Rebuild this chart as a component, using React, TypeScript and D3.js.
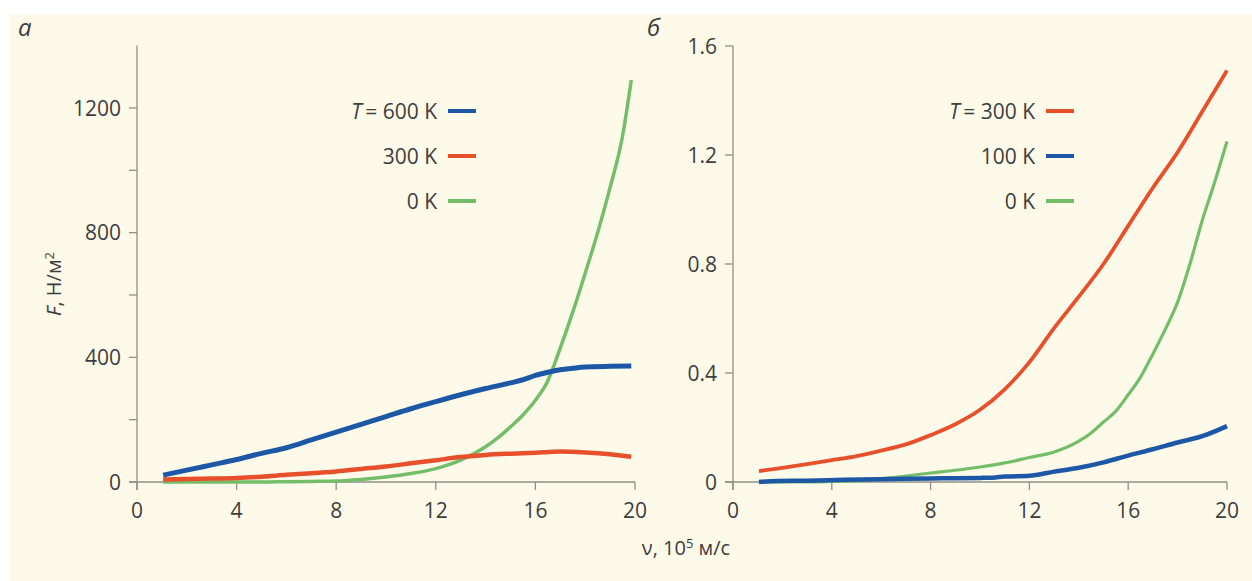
import React from "react";
import * as d3 from "d3";

// ---- Data (panel а: F, Н/м², v in 10^5 m/s) ----
const vA_T600 = [1.05, 2, 3, 4, 5, 6, 7, 8, 9, 10, 11, 12, 13, 14, 15, 15.5, 16, 16.5, 17, 17.5, 18, 19, 19.85];
const fA_T600 = [22, 38, 55, 72, 92, 110, 135, 160, 185, 210, 235, 258, 280, 300, 318, 328, 342, 352, 360, 365, 369, 371, 372];

const vA_T300 = [1.05, 2, 3, 4, 5, 6, 7, 8, 9, 10, 11, 12, 13, 14, 15, 16, 17, 18, 19, 19.85];
const fA_T300 = [8, 10, 11, 13, 17, 23, 28, 34, 42, 50, 60, 70, 80, 87, 91, 94, 98, 95, 89, 81];

const vA_T0 = [1.05, 2, 3, 4, 5, 6, 7, 8, 9, 10, 11, 12, 13, 14, 14.5, 15, 15.5, 16, 16.5, 17, 17.5, 18, 18.5, 19, 19.5, 19.85];
const fA_T0 = [0, 0, 0, 0, 0, 1, 2, 3, 8, 16, 27, 43, 70, 113, 142, 177, 215, 262, 325, 430, 545, 670, 800, 945, 1110, 1290];

// ---- Data (panel б) ----
const vB_T300 = [1.05, 2, 3, 4, 5, 6, 7, 8, 9, 10, 11, 12, 13, 14, 15, 16, 17, 18, 19, 20];
const fB_T300 = [0.04, 0.052, 0.066, 0.08, 0.095, 0.115, 0.138, 0.172, 0.212, 0.265, 0.34, 0.44, 0.565, 0.68, 0.8, 0.94, 1.08, 1.21, 1.36, 1.51];

const vB_T100 = [1.05, 1.8, 3, 4.5, 6, 7, 8, 9, 10, 10.5, 11, 12, 13, 14, 15, 16, 17, 18, 19, 20];
const fB_T100 = [0, 0.004, 0.005, 0.008, 0.01, 0.012, 0.013, 0.014, 0.015, 0.016, 0.02, 0.023, 0.038, 0.052, 0.072, 0.097, 0.12, 0.145, 0.168, 0.205];

const vB_T0 = [1.05, 2, 3, 4, 5, 6, 7, 8, 9, 10, 11, 12, 13, 14, 14.5, 15, 15.5, 16, 16.5, 17, 17.5, 18, 18.5, 19, 19.5, 20];
const fB_T0 = [0, 0, 0, 0.002, 0.005, 0.012, 0.022, 0.033, 0.043, 0.055, 0.07, 0.09, 0.11, 0.15, 0.18, 0.22, 0.26, 0.32, 0.385, 0.47, 0.56, 0.66, 0.8, 0.96, 1.1, 1.25];

const xTicks = [0, 4, 8, 12, 16, 20];
const yTicksA = [0, 200, 400, 600, 800, 1000, 1200];
const yLabelsA = [0, 400, 800, 1200];
const yTicksB = [0, 0.4, 0.8, 1.2, 1.6];

const legendA = ["600 K", "300 K", "0 K"];
const legendB = ["300 K", "100 K", "0 K"];

const BLUE = "#1c58a6";
const RED = "#e8502c";
const GREEN = "#74be6a";
const AXIS = "#8f8f88";
const TEXT = "#3d3d3d";
const BG = "#fefaea";
const FONT = "'Open Sans', 'Noto Sans', sans-serif";
const FS = 21;

type Series = { v: number[]; f: number[]; color: string; width: number };

function Panel(props: {
  x0: number; x1: number; yMax: number; yTop: number;
  yTicks: number[]; yLabels: number[]; fmt: (d: number) => string;
  series: Series[]; legend: string[]; legendColors: string[]; legendX: number;
}) {
  const { x0, x1, yMax, yTop, yTicks, yLabels, fmt, series, legend, legendColors, legendX } = props;
  const x = d3.scaleLinear().domain([0, 20]).range([x0, x1]);
  const y = d3.scaleLinear().domain([0, yMax]).range([482, yTop]);
  const line = d3.line<[number, number]>().x((d) => x(d[0])).y((d) => y(d[1])).curve(d3.curveMonotoneX);
  const legendY = [111, 156, 201];
  return (
    <g>
      <line x1={x(0)} x2={x(0)} y1={y(0) + 8} y2={y(yMax)} stroke={AXIS} strokeWidth={1.3} />
      <line x1={x(0) - 8} x2={x(20)} y1={y(0)} y2={y(0)} stroke={AXIS} strokeWidth={1.3} />
      {yTicks.map((t) => (
        <line key={"yt" + t} x1={x(0) - 8} x2={x(0)} y1={y(t)} y2={y(t)} stroke={AXIS} strokeWidth={1.3} />
      ))}
      {yLabels.map((t) => (
        <text key={"yl" + t} x={x(0) - 16} y={y(t)} dy="0.36em" textAnchor="end" fontSize={FS} fill={TEXT} fontFamily={FONT}>
          {fmt(t)}
        </text>
      ))}
      {xTicks.map((t) => (
        <g key={"xt" + t}>
          <line x1={x(t)} x2={x(t)} y1={y(0)} y2={y(0) + 8} stroke={AXIS} strokeWidth={1.3} />
          <text x={x(t)} y={510} dy="0.36em" textAnchor="middle" fontSize={FS} fill={TEXT} fontFamily={FONT}>
            {t}
          </text>
        </g>
      ))}
      {series.map((s, i) => (
        <path key={"s" + i} d={line(s.v.map((v, j) => [v, s.f[j]] as [number, number])) || ""} fill="none" stroke={s.color} strokeWidth={s.width} strokeLinejoin="round" strokeLinecap="butt" />
      ))}
      {legend.map((lab, i) => (
        <g key={"lg" + i}>
          <text x={legendX} y={legendY[i]} dy="0.36em" textAnchor="end" fontSize={FS} fill={TEXT} fontFamily={FONT}>
            {i === 0 ? (
              <>
                <tspan fontStyle="italic">T</tspan>
                <tspan>{"\u2009= " + lab}</tspan>
              </>
            ) : lab}
          </text>
          <line x1={legendX + 11} x2={legendX + 39} y1={legendY[i]} y2={legendY[i]} stroke={legendColors[i]} strokeWidth={4} />
        </g>
      ))}
    </g>
  );
}

export default function App() {
  const seriesA: Series[] = [
    { v: vA_T0, f: fA_T0, color: GREEN, width: 3.5 },
    { v: vA_T300, f: fA_T300, color: RED, width: 4.5 },
    { v: vA_T600, f: fA_T600, color: BLUE, width: 5 },
  ];
  const seriesB: Series[] = [
    { v: vB_T0, f: fB_T0, color: GREEN, width: 3.2 },
    { v: vB_T300, f: fB_T300, color: RED, width: 3.8 },
    { v: vB_T100, f: fB_T100, color: BLUE, width: 4.5 },
  ];
  return (
    <div style={{ position: "absolute", left: 0, top: 0 }}>
      <svg width={1252} height={581} style={{ display: "block" }}>
        <rect x={0} y={0} width={1252} height={581} fill="#ffffff" />
        <rect x={10} y={14} width={1242} height={567} fill={BG} />
        <text x={18} y={36} fontSize={24} fontStyle="italic" fill={TEXT} fontFamily={FONT}>а</text>
        <text x={647} y={36} fontSize={24} fontStyle="italic" fill={TEXT} fontFamily={FONT}>б</text>
        <Panel x0={137} x1={635} yMax={1400} yTop={45.6} yTicks={yTicksA} yLabels={yLabelsA}
          fmt={(d) => String(d)} series={seriesA} legend={legendA} legendColors={[BLUE, RED, GREEN]} legendX={437} />
        <Panel x0={733} x1={1227} yMax={1.6} yTop={46} yTicks={yTicksB} yLabels={yTicksB}
          fmt={(d) => (d === 0 ? "0" : d3.format(".1f")(d))} series={seriesB} legend={legendB} legendColors={[RED, BLUE, GREEN]} legendX={1035} />
        <text transform="translate(61,284) rotate(-90)" textAnchor="middle" fontSize={20} fill={TEXT} fontFamily={FONT}>
          <tspan fontStyle="italic">F</tspan>
          <tspan>, Н/м</tspan>
          <tspan fontSize={13} dy={-7}>2</tspan>
        </text>
        <text x={686} y={555} textAnchor="middle" fontSize={20} fill={TEXT} fontFamily={FONT}>
          <tspan>ν, 10</tspan>
          <tspan fontSize={13} dy={-7}>5</tspan>
          <tspan dy={7}> м/с</tspan>
        </text>
      </svg>
    </div>
  );
}
